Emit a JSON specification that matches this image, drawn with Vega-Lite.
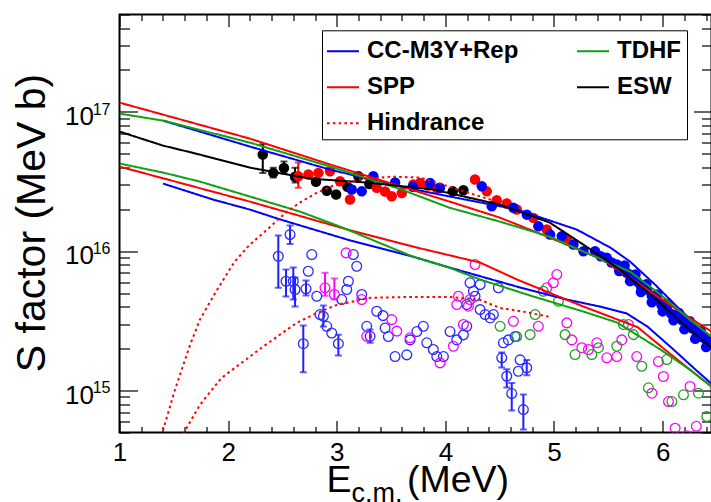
{
"$schema": "https://vega.github.io/schema/vega-lite/v6.json",
"width": 592, "height": 418,
"autosize": {"type": "none"},
"padding": {"left": 119.5, "top": 14.5, "right": 0, "bottom": 69.5},
"background": "white",
"config": {
  "view": {"stroke": "black", "strokeWidth": 2},
  "font": "Liberation Sans",
  "axis": {"grid": false, "domain": false, "tickColor": "black", "tickWidth": 1.2, "tickSize": 0, "labelColor": "black", "titleColor": "black", "labelFont": "Liberation Sans", "titleFont": "Liberation Sans", "titleFontWeight": "normal", "labelFlush": false, "labelOverlap": false, "zindex": 1}
},
"datasets": {
"lines": [
{"m":"CC-M3Y+Rep","c":"CCu","E":1.40,"S":8.66e16},{"m":"CC-M3Y+Rep","c":"CCu","E":2.20,"S":5.64e16},{"m":"CC-M3Y+Rep","c":"CCu","E":2.94,"S":3.85e16},{"m":"CC-M3Y+Rep","c":"CCu","E":3.58,"S":2.91e16},{"m":"CC-M3Y+Rep","c":"CCu","E":4.04,"S":2.47e16},{"m":"CC-M3Y+Rep","c":"CCu","E":4.66,"S":1.99e16},{"m":"CC-M3Y+Rep","c":"CCu","E":5.21,"S":1.43e16},{"m":"CC-M3Y+Rep","c":"CCu","E":5.52,"S":1.06e16},{"m":"CC-M3Y+Rep","c":"CCu","E":5.70,"S":8.43e15},{"m":"CC-M3Y+Rep","c":"CCu","E":5.93,"S":5.76e15},{"m":"CC-M3Y+Rep","c":"CCu","E":6.16,"S":3.81e15},{"m":"CC-M3Y+Rep","c":"CCu","E":6.45,"S":2.35e15},
{"m":"CC-M3Y+Rep","c":"CCl","E":1.40,"S":3.06e16},{"m":"CC-M3Y+Rep","c":"CCl","E":1.86,"S":2.35e16},{"m":"CC-M3Y+Rep","c":"CCl","E":2.20,"S":1.99e16},{"m":"CC-M3Y+Rep","c":"CCl","E":2.48,"S":1.69e16},{"m":"CC-M3Y+Rep","c":"CCl","E":3.10,"S":1.21e16},{"m":"CC-M3Y+Rep","c":"CCl","E":3.70,"S":9.15e15},{"m":"CC-M3Y+Rep","c":"CCl","E":4.04,"S":7.63e15},{"m":"CC-M3Y+Rep","c":"CCl","E":4.66,"S":5.57e15},{"m":"CC-M3Y+Rep","c":"CCl","E":5.12,"S":4.50e15},{"m":"CC-M3Y+Rep","c":"CCl","E":5.42,"S":4.01e15},{"m":"CC-M3Y+Rep","c":"CCl","E":5.67,"S":3.57e15},{"m":"CC-M3Y+Rep","c":"CCl","E":5.86,"S":2.88e15},{"m":"CC-M3Y+Rep","c":"CCl","E":6.10,"S":1.97e15},{"m":"CC-M3Y+Rep","c":"CCl","E":6.30,"S":1.42e15},{"m":"CC-M3Y+Rep","c":"CCl","E":6.45,"S":1.12e15},
{"m":"SPP","c":"SPPu","E":1.00,"S":1.166e17},{"m":"SPP","c":"SPPu","E":2.20,"S":6.43e16},{"m":"SPP","c":"SPPu","E":2.94,"S":4.19e16},{"m":"SPP","c":"SPPu","E":4.04,"S":2.27e16},{"m":"SPP","c":"SPPu","E":4.50,"S":1.744e16},{"m":"SPP","c":"SPPu","E":4.96,"S":1.253e16},{"m":"SPP","c":"SPPu","E":5.45,"S":8.71e15},{"m":"SPP","c":"SPPu","E":5.82,"S":5.58e15},{"m":"SPP","c":"SPPu","E":6.13,"S":3.81e15},{"m":"SPP","c":"SPPu","E":6.45,"S":2.65e15},
{"m":"SPP","c":"SPPl","E":1.00,"S":4.05e16},{"m":"SPP","c":"SPPl","E":2.20,"S":2.27e16},{"m":"SPP","c":"SPPl","E":3.10,"S":1.43e16},{"m":"SPP","c":"SPPl","E":3.70,"S":1.08e16},{"m":"SPP","c":"SPPl","E":4.32,"S":8.29e15},{"m":"SPP","c":"SPPl","E":4.66,"S":6.26e15},{"m":"SPP","c":"SPPl","E":5.27,"S":4.01e15},{"m":"SPP","c":"SPPl","E":5.77,"S":2.85e15},{"m":"SPP","c":"SPPl","E":6.00,"S":2.03e15},{"m":"SPP","c":"SPPl","E":6.25,"S":1.415e15},{"m":"SPP","c":"SPPl","E":6.45,"S":1.068e15},
{"m":"TDHF","c":"TDu","E":1.00,"S":9.72e16},{"m":"TDHF","c":"TDu","E":1.40,"S":8.66e16},{"m":"TDHF","c":"TDu","E":2.20,"S":6.02e16},{"m":"TDHF","c":"TDu","E":2.94,"S":4.05e16},{"m":"TDHF","c":"TDu","E":3.58,"S":2.80e16},{"m":"TDHF","c":"TDu","E":4.04,"S":2.05e16},{"m":"TDHF","c":"TDu","E":4.50,"S":1.632e16},{"m":"TDHF","c":"TDu","E":4.96,"S":1.274e16},{"m":"TDHF","c":"TDu","E":5.27,"S":9.94e15},{"m":"TDHF","c":"TDu","E":5.70,"S":7.14e15},{"m":"TDHF","c":"TDu","E":5.98,"S":4.89e15},{"m":"TDHF","c":"TDu","E":6.25,"S":3.23e15},{"m":"TDHF","c":"TDu","E":6.45,"S":2.44e15},
{"m":"TDHF","c":"TDl","E":1.00,"S":4.26e16},{"m":"TDHF","c":"TDl","E":1.40,"S":3.67e16},{"m":"TDHF","c":"TDl","E":1.74,"S":3.16e16},{"m":"TDHF","c":"TDl","E":2.20,"S":2.47e16},{"m":"TDHF","c":"TDl","E":2.66,"S":1.926e16},{"m":"TDHF","c":"TDl","E":3.03,"S":1.503e16},{"m":"TDHF","c":"TDl","E":3.70,"S":9.15e15},{"m":"TDHF","c":"TDl","E":4.04,"S":7.60e15},{"m":"TDHF","c":"TDl","E":4.32,"S":6.26e15},{"m":"TDHF","c":"TDl","E":4.81,"S":4.73e15},{"m":"TDHF","c":"TDl","E":5.27,"S":3.69e15},{"m":"TDHF","c":"TDl","E":5.58,"S":3.08e15},{"m":"TDHF","c":"TDl","E":5.98,"S":1.97e15},{"m":"TDHF","c":"TDl","E":6.25,"S":1.415e15},{"m":"TDHF","c":"TDl","E":6.45,"S":1.068e15},
{"m":"ESW","c":"ESW","E":1.00,"S":7.22e16},{"m":"ESW","c":"ESW","E":1.40,"S":5.73e16},{"m":"ESW","c":"ESW","E":1.74,"S":4.94e16},{"m":"ESW","c":"ESW","E":2.20,"S":3.98e16},{"m":"ESW","c":"ESW","E":2.75,"S":3.32e16},{"m":"ESW","c":"ESW","E":3.28,"S":3.11e16},{"m":"ESW","c":"ESW","E":3.89,"S":2.77e16},{"m":"ESW","c":"ESW","E":4.50,"S":2.16e16},{"m":"ESW","c":"ESW","E":4.96,"S":1.606e16},{"m":"ESW","c":"ESW","E":5.27,"S":1.116e16},{"m":"ESW","c":"ESW","E":5.58,"S":7.63e15},{"m":"ESW","c":"ESW","E":5.89,"S":4.89e15},{"m":"ESW","c":"ESW","E":6.16,"S":3.13e15},{"m":"ESW","c":"ESW","E":6.45,"S":2.03e15},
{"m":"Hindrance","c":"Hu","E":1.37,"S":4.3e14},{"m":"Hindrance","c":"Hu","E":1.51,"S":1.01e15},{"m":"Hindrance","c":"Hu","E":1.65,"S":2.13e15},{"m":"Hindrance","c":"Hu","E":1.74,"S":3.23e15},{"m":"Hindrance","c":"Hu","E":1.90,"S":5.31e15},{"m":"Hindrance","c":"Hu","E":2.06,"S":8.43e15},{"m":"Hindrance","c":"Hu","E":2.20,"S":1.116e16},{"m":"Hindrance","c":"Hu","E":2.36,"S":1.43e16},{"m":"Hindrance","c":"Hu","E":2.52,"S":1.863e16},{"m":"Hindrance","c":"Hu","E":2.66,"S":2.234e16},{"m":"Hindrance","c":"Hu","E":2.82,"S":2.64e16},{"m":"Hindrance","c":"Hu","E":2.97,"S":2.96e16},{"m":"Hindrance","c":"Hu","E":3.21,"S":3.27e16},{"m":"Hindrance","c":"Hu","E":3.49,"S":3.43e16},{"m":"Hindrance","c":"Hu","E":3.77,"S":3.38e16},{"m":"Hindrance","c":"Hu","E":4.04,"S":2.90e16},{"m":"Hindrance","c":"Hu","E":4.30,"S":2.50e16},{"m":"Hindrance","c":"Hu","E":4.45,"S":2.30e16},
{"m":"Hindrance","c":"Hl","E":1.56,"S":4.5e14},{"m":"Hindrance","c":"Hl","E":1.74,"S":7.90e14},{"m":"Hindrance","c":"Hl","E":1.94,"S":1.234e15},{"m":"Hindrance","c":"Hl","E":2.16,"S":1.661e15},{"m":"Hindrance","c":"Hl","E":2.32,"S":2.06e15},{"m":"Hindrance","c":"Hl","E":2.63,"S":3.06e15},{"m":"Hindrance","c":"Hl","E":2.78,"S":3.49e15},{"m":"Hindrance","c":"Hl","E":3.00,"S":4.12e15},{"m":"Hindrance","c":"Hl","E":3.31,"S":4.63e15},{"m":"Hindrance","c":"Hl","E":3.70,"S":4.70e15},{"m":"Hindrance","c":"Hl","E":4.04,"S":4.70e15},{"m":"Hindrance","c":"Hl","E":4.32,"S":4.48e15},{"m":"Hindrance","c":"Hl","E":4.50,"S":3.92e15},{"m":"Hindrance","c":"Hl","E":4.73,"S":3.67e15},{"m":"Hindrance","c":"Hl","E":4.96,"S":3.38e15}
],
"filled": [
{"s":"blk","E":2.319,"S":4.94e16},{"s":"blk","E":2.416,"S":3.65e16},{"s":"blk","E":2.514,"S":3.96e16},{"s":"blk","E":2.616,"S":3.42e16},{"s":"blk","E":2.809,"S":3.15e16},{"s":"blk","E":2.908,"S":2.72e16},{"s":"blk","E":2.994,"S":2.55e16},{"s":"blk","E":3.098,"S":2.90e16},{"s":"blk","E":3.199,"S":3.45e16},{"s":"blk","E":3.300,"S":3.04e16},{"s":"blk","E":4.068,"S":2.69e16},{"s":"blk","E":4.166,"S":2.74e16},
{"s":"red","E":2.646,"S":3.45e16},{"s":"red","E":2.739,"S":3.55e16},{"s":"red","E":2.831,"S":3.65e16},{"s":"red","E":2.938,"S":3.75e16},{"s":"red","E":3.030,"S":3.18e16},{"s":"red","E":3.122,"S":2.35e16},{"s":"red","E":3.368,"S":2.85e16},{"s":"red","E":3.445,"S":2.68e16},{"s":"red","E":3.506,"S":2.48e16},{"s":"red","E":3.599,"S":2.62e16},{"s":"red","E":3.705,"S":3.01e16},{"s":"red","E":3.767,"S":3.09e16},{"s":"red","E":3.841,"S":2.96e16},{"s":"red","E":3.924,"S":2.82e16},{"s":"red","E":4.273,"S":3.27e16},{"s":"red","E":4.381,"S":2.69e16},{"s":"red","E":4.473,"S":2.32e16},{"s":"red","E":4.565,"S":2.20e16},{"s":"red","E":4.657,"S":1.99e16},{"s":"red","E":4.810,"S":1.735e16},{"s":"red","E":4.934,"S":1.43e16},{"s":"red","E":5.12,"S":1.2e16},{"s":"red","E":5.70,"S":6.8e15},{"s":"red","E":6.00,"S":4.2e15},{"s":"red","E":6.30,"S":2.75e15},
{"s":"blu","E":3.138,"S":2.77e16},{"s":"blu","E":3.230,"S":2.69e16},{"s":"blu","E":3.337,"S":3.45e16},{"s":"blu","E":3.537,"S":3.11e16},{"s":"blu","E":3.70,"S":2.9e16},{"s":"blu","E":3.859,"S":3.09e16},{"s":"blu","E":3.95,"S":2.85e16},{"s":"blu","E":4.335,"S":2.93e16},{"s":"blu","E":4.427,"S":2.10e16},{"s":"blu","E":4.626,"S":2.05e16},{"s":"blu","E":4.750,"S":1.83e16},{"s":"blu","E":4.856,"S":1.51e16},{"s":"blu","E":4.964,"S":1.316e16},{"s":"blu","E":5.072,"S":1.28e16},{"s":"blu","E":5.179,"S":1.116e16},{"s":"blu","E":5.271,"S":1.0e16},{"s":"blu","E":5.378,"S":1.0e16},{"s":"blu","E":5.486,"S":8.96e15},
{"s":"blu","E":5.43,"S":9.2e15},{"s":"blu","E":5.53,"S":8.3e15},{"s":"blu","E":5.578,"S":8.02e15},{"s":"blu","E":5.62,"S":7.3e15},{"s":"blu","E":5.67,"S":6.99e15},{"s":"blu","E":5.71,"S":6.4e15},{"s":"blu","E":5.762,"S":6.09e15},{"s":"blu","E":5.80,"S":5.6e15},{"s":"blu","E":5.855,"S":5.31e15},{"s":"blu","E":5.90,"S":4.8e15},{"s":"blu","E":5.947,"S":4.5e15},{"s":"blu","E":5.99,"S":4.1e15},{"s":"blu","E":6.039,"S":3.81e15},{"s":"blu","E":6.08,"S":3.55e15},{"s":"blu","E":6.131,"S":3.41e15},{"s":"blu","E":6.18,"S":3.2e15},{"s":"blu","E":6.223,"S":3.06e15},{"s":"blu","E":6.27,"S":2.8e15},{"s":"blu","E":6.315,"S":2.59e15},{"s":"blu","E":6.36,"S":2.42e15},{"s":"blu","E":6.407,"S":2.26e15},{"s":"blu","E":6.44,"S":2.15e15},
{"s":"blu","E":5.60,"S":7.2e15},{"s":"blu","E":5.70,"S":6.1e15},{"s":"blu","E":5.80,"S":5.1e15},{"s":"blu","E":5.90,"S":4.3e15},{"s":"blu","E":6.00,"S":3.7e15},{"s":"blu","E":6.10,"S":3.2e15},{"s":"blu","E":6.20,"S":2.75e15},{"s":"blu","E":6.30,"S":2.35e15},{"s":"blu","E":6.40,"S":2.05e15},
{"s":"blu","E":5.65,"S":7.9e15},{"s":"blu","E":5.75,"S":6.8e15},{"s":"blu","E":5.85,"S":5.8e15},{"s":"blu","E":5.95,"S":4.9e15},{"s":"blu","E":6.05,"S":4.2e15},{"s":"blu","E":6.15,"S":3.6e15},{"s":"blu","E":6.25,"S":3.15e15},{"s":"blu","E":6.35,"S":2.7e15}
],
"open": [
{"s":"ob","E":2.462,"S":9.2e15},{"s":"ob","E":2.570,"S":1.316e16},{"s":"ob","E":2.533,"S":6.09e15},{"s":"ob","E":2.600,"S":6.09e15},{"s":"ob","E":2.616,"S":5.31e15},{"s":"ob","E":2.770,"S":9.46e15},{"s":"ob","E":2.738,"S":7.18e15},{"s":"ob","E":2.717,"S":5.37e15},{"s":"ob","E":2.692,"S":2.17e15},{"s":"ob","E":2.816,"S":4.75e15},{"s":"ob","E":2.846,"S":3.51e15},{"s":"ob","E":2.877,"S":3.41e15},{"s":"ob","E":2.908,"S":2.89e15},{"s":"ob","E":2.954,"S":2.59e15},{"s":"ob","E":3.015,"S":2.17e15},{"s":"ob","E":3.092,"S":5.31e15},{"s":"ob","E":3.046,"S":4.5e15},{"s":"ob","E":3.107,"S":6.09e15},{"s":"ob","E":3.153,"S":9.46e15},{"s":"ob","E":3.184,"S":7.8e15},{"s":"ob","E":3.230,"S":4.89e15},{"s":"ob","E":3.276,"S":2.89e15},{"s":"ob","E":3.307,"S":2.45e15},{"s":"ob","E":3.368,"S":3.71e15},{"s":"ob","E":3.426,"S":3.45e15},{"s":"ob","E":3.445,"S":2.81e15},{"s":"ob","E":3.475,"S":2.44e15},{"s":"ob","E":3.537,"S":1.754e15},{"s":"ob","E":3.645,"S":1.804e15},{"s":"ob","E":3.675,"S":2.31e15},{"s":"ob","E":3.737,"S":2.65e15},{"s":"ob","E":3.797,"S":2.89e15},{"s":"ob","E":3.829,"S":2.2e15},{"s":"ob","E":3.889,"S":1.97e15},{"s":"ob","E":3.921,"S":1.754e15},{"s":"ob","E":3.982,"S":1.754e15},{"s":"ob","E":4.043,"S":2.65e15},{"s":"ob","E":4.105,"S":2.31e15},{"s":"ob","E":4.166,"S":2.51e15},{"s":"ob","E":4.197,"S":2.89e15},{"s":"ob","E":4.519,"S":1.717e15},{"s":"ob","E":4.565,"S":1.267e15},{"s":"ob","E":4.611,"S":9.51e14},{"s":"ob","E":4.718,"S":7.3e14},{"s":"ob","E":4.672,"S":1.376e15},{"s":"ob","E":4.749,"S":1.455e15},{"s":"ob","E":4.688,"S":1.661e15},{"s":"ob","E":4.534,"S":2.2e15},{"s":"ob","E":4.580,"S":2.31e15},{"s":"ob","E":4.642,"S":2.44e15},{"s":"ob","E":4.197,"S":4.14e15},{"s":"ob","E":4.320,"S":3.81e15},{"s":"ob","E":4.366,"S":3.51e15},{"s":"ob","E":4.412,"S":3.32e15},{"s":"ob","E":4.442,"S":3.51e15},{"s":"ob","E":4.488,"S":5.46e15},{"s":"ob","E":4.273,"S":4.75e15},{"s":"ob","E":4.320,"S":5.76e15},{"s":"ob","E":4.227,"S":5.93e15},{"s":"ob","E":4.258,"S":5.16e15},
{"s":"om","E":3.086,"S":9.73e15},{"s":"om","E":2.892,"S":5.46e15},{"s":"om","E":2.978,"S":4.89e15},{"s":"om","E":3.230,"S":4.5e15},{"s":"om","E":3.506,"S":3.23e15},{"s":"om","E":3.553,"S":2.67e15},{"s":"om","E":3.276,"S":2.45e15},{"s":"om","E":3.675,"S":2.39e15},{"s":"om","E":3.951,"S":1.58e15},{"s":"om","E":4.074,"S":2.08e15},{"s":"om","E":4.166,"S":2.98e15},{"s":"om","E":4.120,"S":4.75e15},{"s":"om","E":4.227,"S":4.5e15},{"s":"om","E":4.273,"S":8.02e15},{"s":"om","E":4.105,"S":4.14e15},{"s":"om","E":4.212,"S":4.03e15},{"s":"om","E":4.626,"S":3.14e15},{"s":"om","E":4.856,"S":2.89e15},{"s":"om","E":5.026,"S":6.8e15},{"s":"om","E":4.994,"S":5.93e15},{"s":"om","E":4.934,"S":5.46e15},{"s":"om","E":5.118,"S":3.06e15},{"s":"om","E":5.164,"S":2.31e15},{"s":"om","E":5.256,"S":2.03e15},{"s":"om","E":5.317,"S":1.97e15},{"s":"om","E":5.394,"S":2.2e15},{"s":"om","E":5.486,"S":1.717e15},{"s":"om","E":5.578,"S":1.754e15},{"s":"om","E":5.624,"S":2.31e15},{"s":"om","E":5.685,"S":2.98e15},{"s":"om","E":5.762,"S":1.754e15},{"s":"om","E":5.961,"S":1.615e15},{"s":"om","E":6.007,"S":1.261e15},{"s":"om","E":5.901,"S":9.57e14},{"s":"om","E":6.054,"S":8.34e14},{"s":"om","E":6.253,"S":1.069e15},{"s":"om","E":6.115,"S":5.37e14},{"s":"om","E":6.221,"S":4.74e14},{"s":"om","E":6.310,"S":5.54e14},
{"s":"og","E":4.902,"S":5.16e15},{"s":"og","E":5.041,"S":4.37e15},{"s":"og","E":4.826,"S":3.51e15},{"s":"og","E":4.504,"S":2.89e15},{"s":"og","E":4.780,"S":2.52e15},{"s":"og","E":5.102,"S":2.52e15},{"s":"og","E":5.194,"S":1.812e15},{"s":"og","E":5.348,"S":1.812e15},{"s":"og","E":5.409,"S":2.03e15},{"s":"og","E":5.578,"S":2.08e15},{"s":"og","E":5.639,"S":2.98e15},{"s":"og","E":5.731,"S":2.52e15},{"s":"og","E":5.808,"S":1.494e15},{"s":"og","E":5.869,"S":1.046e15},{"s":"og","E":6.039,"S":1.668e15},{"s":"og","E":6.085,"S":8.34e14},{"s":"og","E":6.192,"S":9.32e14},{"s":"og","E":6.330,"S":9.58e14},{"s":"og","E":6.407,"S":6.51e14},{"s":"og","E":4.657,"S":2.44e15}
],
"err": [
{"s":"blk","E":2.319,"lo":3.65e16,"hi":5.85e16},{"s":"blk","E":2.416,"lo":3.38e16,"hi":3.98e16},{"s":"blk","E":2.514,"lo":3.61e16,"hi":4.40e16},{"s":"blk","E":2.616,"lo":3.11e16,"hi":3.98e16},
{"s":"red","E":2.646,"lo":2.86e16,"hi":4.33e16},
{"s":"ob","E":2.462,"lo":5.46e15,"hi":1.295e16},{"s":"ob","E":2.570,"lo":1.129e16,"hi":1.528e16},{"s":"ob","E":2.533,"lo":4.73e15,"hi":7.39e15},{"s":"ob","E":2.600,"lo":4.5e15,"hi":7.63e15},{"s":"ob","E":2.616,"lo":4.01e15,"hi":6.47e15},{"s":"ob","E":2.717,"lo":4.81e15,"hi":6.16e15},{"s":"ob","E":2.692,"lo":1.353e15,"hi":2.93e15},{"s":"ob","E":2.877,"lo":2.88e15,"hi":4.08e15},{"s":"ob","E":3.015,"lo":1.783e15,"hi":2.52e15},{"s":"ob","E":3.307,"lo":2.2e15,"hi":2.74e15},{"s":"ob","E":4.519,"lo":1.462e15,"hi":1.873e15},{"s":"ob","E":4.565,"lo":1.05e15,"hi":1.422e15},{"s":"ob","E":4.611,"lo":7.2e14,"hi":1.134e15},{"s":"ob","E":4.718,"lo":5.25e14,"hi":9.36e14},{"s":"ob","E":4.749,"lo":1.288e15,"hi":1.658e15},
{"s":"om","E":2.892,"lo":4.8e15,"hi":7.0e15},{"s":"om","E":2.978,"lo":4.5e15,"hi":6.36e15}
]
},
"layer": [
{
  "data": {"name": "err"},
  "mark": {"type": "rule", "strokeWidth": 2, "clip": true},
  "encoding": {
    "x": {"field": "E", "type": "quantitative", "scale": {"domain": [1, 6.45], "nice": false, "zero": false},
      "axis": {"orient": "top", "values": [1,2,3,4,5,6], "labels": false, "title": null, "tickSize": -12}},
    "y": {"field": "lo", "type": "quantitative", "scale": {"type": "log", "domain": [5e14, 5e17], "nice": false},
      "axis": {"orient": "left", "values": [5e14,6e14,7e14,8e14,9e14,2e15,3e15,4e15,5e15,6e15,7e15,8e15,9e15,2e16,3e16,4e16,5e16,6e16,7e16,8e16,9e16,2e17,3e17,4e17,5e17], "labels": false, "title": null, "tickSize": -10}},
    "y2": {"field": "hi"},
    "color": {"field": "s", "type": "nominal", "legend": null, "scale": {"domain": ["blk","red","blu","ob","om","og"], "range": ["#000000","#ff0000","#0000ff","#1f1fff","#ff00ff","#22a022"]}}
  }
},
{
  "data": {"name": "err"},
  "mark": {"type": "tick", "orient": "horizontal", "size": 7, "thickness": 2, "clip": true},
  "encoding": {
    "x": {"field": "E", "type": "quantitative", "scale": {"domain": [1, 6.45], "nice": false, "zero": false},
      "axis": {"orient": "top", "values": [1.2,1.4,1.6,1.8,2.2,2.4,2.6,2.8,3.2,3.4,3.6,3.8,4.2,4.4,4.6,4.8,5.2,5.4,5.6,5.8,6.2,6.4], "labels": false, "title": null, "tickSize": -6}},
    "y": {"field": "lo", "type": "quantitative", "scale": {"type": "log", "domain": [5e14, 5e17], "nice": false},
      "axis": {"orient": "right", "values": [1e15, 1e16, 1e17], "labels": false, "title": null, "tickSize": -18}},
    "color": {"field": "s", "type": "nominal", "legend": null, "scale": {"domain": ["blk","red","blu","ob","om","og"], "range": ["#000000","#ff0000","#0000ff","#1f1fff","#ff00ff","#22a022"]}}
  }
},
{
  "data": {"name": "err"},
  "mark": {"type": "tick", "orient": "horizontal", "size": 7, "thickness": 2, "clip": true},
  "encoding": {
    "x": {"field": "E", "type": "quantitative", "scale": {"domain": [1, 6.45], "nice": false, "zero": false}, "axis": null},
    "y": {"field": "hi", "type": "quantitative", "scale": {"type": "log", "domain": [5e14, 5e17], "nice": false},
      "axis": {"orient": "right", "values": [5e14,6e14,7e14,8e14,9e14,2e15,3e15,4e15,5e15,6e15,7e15,8e15,9e15,2e16,3e16,4e16,5e16,6e16,7e16,8e16,9e16,2e17,3e17,4e17,5e17], "labels": false, "title": null, "tickSize": -10}},
    "color": {"field": "s", "type": "nominal", "legend": null, "scale": {"domain": ["blk","red","blu","ob","om","og"], "range": ["#000000","#ff0000","#0000ff","#1f1fff","#ff00ff","#22a022"]}}
  }
},
{
  "data": {"name": "open"},
  "mark": {"type": "point", "shape": "circle", "filled": false, "size": 95, "strokeWidth": 1.3, "opacity": 1, "clip": true},
  "encoding": {
    "x": {"field": "E", "type": "quantitative", "scale": {"domain": [1, 6.45], "nice": false, "zero": false},
      "axis": {"orient": "bottom", "values": [1,2,3,4,5,6], "labels": false, "tickSize": -12, "title": "c.m.", "titleFontSize": 27, "titleX": 231.5, "titleY": 68.5, "titleAlign": "left", "titleBaseline": "alphabetic", "titleAngle": 0}},
    "y": {"field": "S", "type": "quantitative", "scale": {"type": "log", "domain": [5e14, 5e17], "nice": false},
      "axis": {"orient": "left", "values": [1e15, 1e16, 1e17], "ticks": false, "labelExpr": "format(round(log(datum.value)/LN10),'d')", "labelFontSize": 16, "labelPadding": 9.5, "labelAlign": "right", "labelBaseline": "alphabetic", "labelOffset": 2.4, "title": null}},
    "color": {"field": "s", "type": "nominal", "legend": null, "scale": {"domain": ["blk","red","blu","ob","om","og"], "range": ["#000000","#ff0000","#0000ff","#2a2aff","#ff00ff","#22a022"]}}
  }
},
{
  "data": {"name": "filled"},
  "mark": {"type": "circle", "size": 110, "opacity": 1, "clip": true},
  "encoding": {
    "x": {"field": "E", "type": "quantitative", "scale": {"domain": [1, 6.45], "nice": false, "zero": false},
      "axis": {"orient": "bottom", "values": [1.2,1.4,1.6,1.8,2.2,2.4,2.6,2.8,3.2,3.4,3.6,3.8,4.2,4.4,4.6,4.8,5.2,5.4,5.6,5.8,6.2,6.4], "labels": false, "tickSize": -6, "title": "(MeV)", "titleFontSize": 37.5, "titleX": 287, "titleY": 59, "titleAlign": "left", "titleBaseline": "alphabetic", "titleAngle": 0}},
    "y": {"field": "S", "type": "quantitative", "scale": {"type": "log", "domain": [5e14, 5e17], "nice": false},
      "axis": {"orient": "left", "values": [1e15, 1e16, 1e17], "labels": false, "title": null, "tickSize": -18}},
    "color": {"field": "s", "type": "nominal", "legend": null, "scale": {"domain": ["blk","red","blu","ob","om","og"], "range": ["#000000","#ff0000","#0000ff","#2a2aff","#ff00ff","#22a022"]}}
  }
},
{
  "data": {"name": "lines"},
  "mark": {"type": "line", "clip": true},
  "encoding": {
    "x": {"field": "E", "type": "quantitative", "scale": {"domain": [1, 6.45], "nice": false, "zero": false},
      "axis": {"orient": "bottom", "values": [1,2,3,4,5,6], "ticks": false,
        "labelFontSize": 26, "labelPadding": 7.3, "labelBaseline": "top", "labelAlign": "center",
        "title": "E", "titleFontSize": 37.5, "titleX": 206.5, "titleY": 59, "titleAlign": "left", "titleBaseline": "alphabetic", "titleAngle": 0}},
    "y": {"field": "S", "type": "quantitative", "scale": {"type": "log", "domain": [5e14, 5e17], "nice": false},
      "axis": {"orient": "left", "values": [1e15, 1e16, 1e17], "ticks": false,
        "labelExpr": "'10'", "labelFontSize": 26, "labelPadding": 26, "labelAlign": "right", "labelBaseline": "middle", "labelOffset": 4.7,
        "title": "S factor (MeV b)", "titleFontSize": 41, "titleAngle": 270, "titleX": -75, "titleY": 208, "titleAlign": "center", "titleBaseline": "alphabetic"}},
    "color": {"field": "m", "type": "nominal",
      "scale": {"domain": ["CC-M3Y+Rep","SPP","Hindrance","TDHF","ESW"], "range": ["#0000ff","#ff0000","#ff0000","#11a011","#000000"]},
      "legend": {"orient": "none", "legendX": 202.5, "legendY": 15.8, "columns": 2, "title": " ", "titleOrient": "right", "titleFontSize": 60, "titlePadding": 2, "symbolType": "stroke", "symbolSize": 1024, "symbolStrokeWidth": 2, "labelFontSize": 24, "labelFontWeight": "bold", "labelFont": "Liberation Sans", "labelColor": "black", "labelOffset": 7, "labelLimit": 400, "rowPadding": 7, "columnPadding": 54, "padding": 4, "fillColor": "white", "strokeColor": "black",
        "encode": {"symbols": {"update": {"strokeDash": {"signal": "datum.value === 'Hindrance' ? [2.6, 3.2] : [1, 0]"}}}}}},
    "strokeDash": {"field": "m", "type": "nominal", "legend": null,
      "scale": {"domain": ["CC-M3Y+Rep","SPP","Hindrance","TDHF","ESW"], "range": [[1,0],[1,0],[2.6,3.2],[1,0],[1,0]]}},
    "strokeWidth": {"field": "m", "type": "nominal", "legend": null,
      "scale": {"domain": ["CC-M3Y+Rep","SPP","Hindrance","TDHF","ESW"], "range": [2, 2, 2.6, 2, 2]}},
    "detail": {"field": "c", "type": "nominal"}
  }
}
],
"resolve": {"scale": {"color": "independent"}, "axis": {"x": "independent", "y": "independent"}}
}
